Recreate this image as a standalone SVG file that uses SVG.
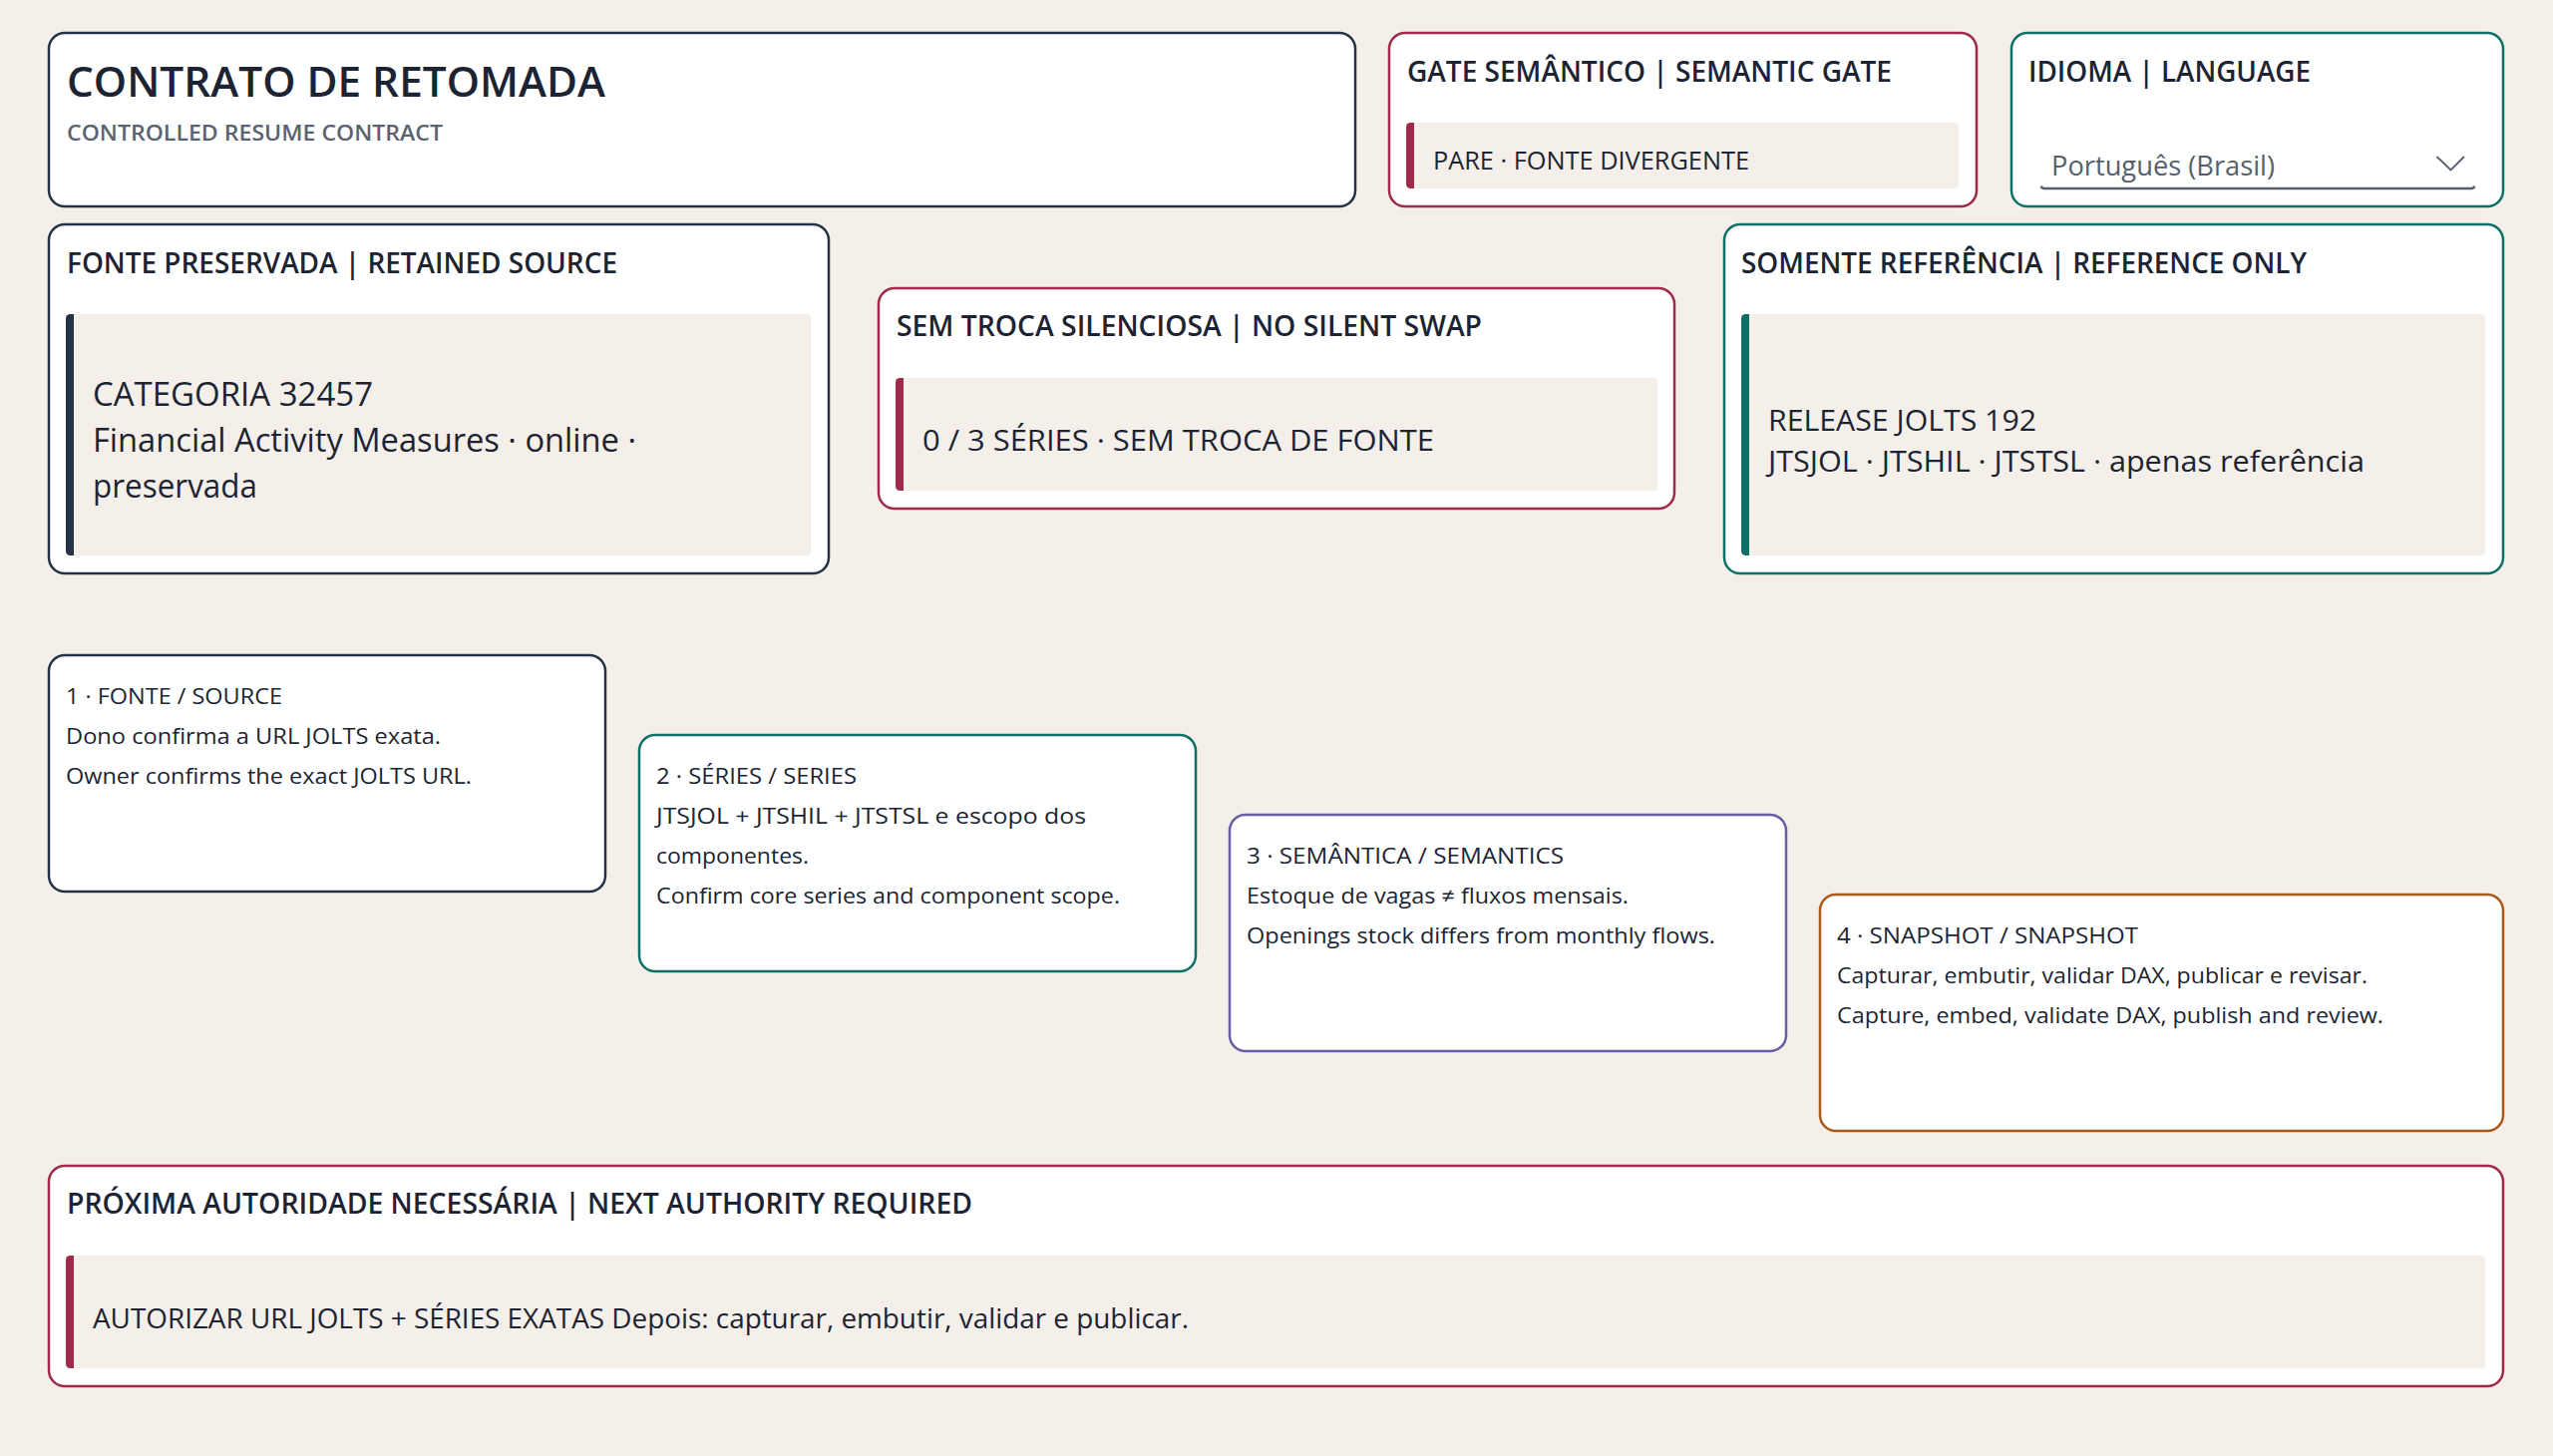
<svg xmlns="http://www.w3.org/2000/svg" width="2560" height="1460" viewBox="0 0 2560 1460">
<defs>
<style>
.bg{fill:#f4efe9}
.card{fill:#ffffff;stroke-width:2.5}
.navy{stroke:#263246}
.crim{stroke:#9e2a4b}
.teal{stroke:#0f6f66}
.purp{stroke:#6b5ca5}
.orng{stroke:#a85a1a}
.panel{fill:#f4efe9}
.barN{fill:#263246}
.barC{fill:#9e2a4b}
.barT{fill:#0f6f66}
text{font-family:"Open Sans","Noto Sans","DejaVu Sans",sans-serif;fill:#1c2433}
.title{font-size:41px;font-weight:600}
.sub{font-size:22px;font-weight:600;fill:#5b6373}
.h{font-size:28px;font-weight:600}
.pv{font-size:26px;font-weight:400}
.big{font-size:32px;font-weight:400}
.mid{font-size:30px;font-weight:400}
.dd{font-size:28px;font-weight:400;fill:#555f6d}
.sh{font-size:22px;font-weight:500}
.sb{font-size:22px;font-weight:400}
.nx{font-size:28px;font-weight:400}
</style>
</defs>
<rect class="bg" x="0" y="0" width="2560" height="1460"/>

<g id="title">
<rect class="card navy" x="49" y="33" width="1310" height="174" rx="16"/>
<text class="title" x="67" y="97" textLength="540" lengthAdjust="spacingAndGlyphs">CONTRATO DE RETOMADA</text>
<text class="sub" x="67" y="141" textLength="377" lengthAdjust="spacingAndGlyphs">CONTROLLED RESUME CONTRACT</text>
</g>

<g id="gate">
<rect class="card crim" x="1393" y="33" width="589" height="174" rx="16"/>
<text class="h" x="1411" y="82" textLength="486" lengthAdjust="spacingAndGlyphs">GATE SEMÂNTICO | SEMANTIC GATE</text>
<rect class="panel" x="1410" y="123" width="554" height="66" rx="4"/>
<path class="barC" d="M1418,123 H1414.5 A4.5 4.5 0 0 0 1410,127.5 V184.5 A4.5 4.5 0 0 0 1414.5,189 H1418 Z"/>
<text class="pv" x="1437" y="170" textLength="317" lengthAdjust="spacingAndGlyphs">PARE · FONTE DIVERGENTE</text>
</g>

<g id="language">
<rect class="card teal" x="2017" y="33" width="493" height="174" rx="16"/>
<text class="h" x="2034" y="82" textLength="283" lengthAdjust="spacingAndGlyphs">IDIOMA | LANGUAGE</text>
<text class="dd" x="2057" y="176" textLength="224" lengthAdjust="spacingAndGlyphs">Português (Brasil)</text>
<path d="M2047,186.5 Q2047,189 2050,189 H2478 Q2481,189 2481,186.5" fill="none" stroke="#555f6d" stroke-width="2.5"/>
<polyline points="2443.5,157 2457.5,170.5 2471,157" fill="none" stroke="#555f6d" stroke-width="1.8"/>
</g>

<g id="retained-source">
<rect class="card navy" x="49" y="225" width="782" height="350" rx="16"/>
<text class="h" x="67" y="274" textLength="552" lengthAdjust="spacingAndGlyphs">FONTE PRESERVADA | RETAINED SOURCE</text>
<rect class="panel" x="66" y="315" width="747" height="242" rx="4"/>
<path class="barN" d="M74,315 H70.5 A4.5 4.5 0 0 0 66,319.5 V552.5 A4.5 4.5 0 0 0 70.5,557 H74 Z"/>
<text class="big" x="93" y="407" textLength="281" lengthAdjust="spacingAndGlyphs">CATEGORIA 32457</text>
<text class="big" x="93" y="453" textLength="545" lengthAdjust="spacingAndGlyphs">Financial Activity Measures · online ·</text>
<text class="big" x="93" y="499" textLength="165" lengthAdjust="spacingAndGlyphs">preservada</text>
</g>

<g id="no-silent-swap">
<rect class="card crim" x="881" y="289" width="798" height="221" rx="16"/>
<text class="h" x="899" y="337" textLength="587" lengthAdjust="spacingAndGlyphs">SEM TROCA SILENCIOSA | NO SILENT SWAP</text>
<rect class="panel" x="898" y="379" width="764" height="113" rx="4"/>
<path class="barC" d="M906,379 H902.5 A4.5 4.5 0 0 0 898,383.5 V487.5 A4.5 4.5 0 0 0 902.5,492 H906 Z"/>
<text class="mid" x="925" y="452" textLength="513" lengthAdjust="spacingAndGlyphs">0 / 3 SÉRIES · SEM TROCA DE FONTE</text>
</g>

<g id="reference-only">
<rect class="card teal" x="1729" y="225" width="781" height="350" rx="16"/>
<text class="h" x="1746" y="274" textLength="567" lengthAdjust="spacingAndGlyphs">SOMENTE REFERÊNCIA | REFERENCE ONLY</text>
<rect class="panel" x="1746" y="315" width="746" height="242" rx="4"/>
<path class="barT" d="M1754,315 H1750.5 A4.5 4.5 0 0 0 1746,319.5 V552.5 A4.5 4.5 0 0 0 1750.5,557 H1754 Z"/>
<text class="mid" x="1773" y="432" textLength="269" lengthAdjust="spacingAndGlyphs">RELEASE JOLTS 192</text>
<text class="mid" x="1773" y="473" textLength="598" lengthAdjust="spacingAndGlyphs">JTSJOL · JTSHIL · JTSTSL · apenas referência</text>
</g>

<g id="step-1">
<rect class="card navy" x="49" y="657" width="558" height="237" rx="16"/>
<text class="sh" x="66" y="706" textLength="217" lengthAdjust="spacingAndGlyphs">1 · FONTE / SOURCE</text>
<text class="sb" x="66" y="746" textLength="376" lengthAdjust="spacingAndGlyphs">Dono confirma a URL JOLTS exata.</text>
<text class="sb" x="66" y="786" textLength="407" lengthAdjust="spacingAndGlyphs">Owner confirms the exact JOLTS URL.</text>
</g>

<g id="step-2">
<rect class="card teal" x="641" y="737" width="558" height="237" rx="16"/>
<text class="sh" x="658" y="786" textLength="201" lengthAdjust="spacingAndGlyphs">2 · SÉRIES / SERIES</text>
<text class="sb" x="658" y="826" textLength="431" lengthAdjust="spacingAndGlyphs">JTSJOL + JTSHIL + JTSTSL e escopo dos</text>
<text class="sb" x="658" y="866" textLength="153" lengthAdjust="spacingAndGlyphs">componentes.</text>
<text class="sb" x="658" y="906" textLength="465" lengthAdjust="spacingAndGlyphs">Confirm core series and component scope.</text>
</g>

<g id="step-3">
<rect class="card purp" x="1233" y="817" width="558" height="237" rx="16"/>
<text class="sh" x="1250" y="866" textLength="318" lengthAdjust="spacingAndGlyphs">3 · SEMÂNTICA / SEMANTICS</text>
<text class="sb" x="1250" y="906" textLength="383" lengthAdjust="spacingAndGlyphs">Estoque de vagas ≠ fluxos mensais.</text>
<text class="sb" x="1250" y="946" textLength="470" lengthAdjust="spacingAndGlyphs">Openings stock differs from monthly flows.</text>
</g>

<g id="step-4">
<rect class="card orng" x="1825" y="897" width="685" height="237" rx="16"/>
<text class="sh" x="1842" y="946" textLength="302" lengthAdjust="spacingAndGlyphs">4 · SNAPSHOT / SNAPSHOT</text>
<text class="sb" x="1842" y="986" textLength="532" lengthAdjust="spacingAndGlyphs">Capturar, embutir, validar DAX, publicar e revisar.</text>
<text class="sb" x="1842" y="1026" textLength="548" lengthAdjust="spacingAndGlyphs">Capture, embed, validate DAX, publish and review.</text>
</g>

<g id="next-authority">
<rect class="card crim" x="49" y="1169" width="2461" height="221" rx="16"/>
<text class="h" x="67" y="1217" textLength="908" lengthAdjust="spacingAndGlyphs">PRÓXIMA AUTORIDADE NECESSÁRIA | NEXT AUTHORITY REQUIRED</text>
<rect class="panel" x="66" y="1259" width="2426" height="113" rx="4"/>
<path class="barC" d="M74,1259 H70.5 A4.5 4.5 0 0 0 66,1263.5 V1367.5 A4.5 4.5 0 0 0 70.5,1372 H74 Z"/>
<text class="nx" x="93" y="1332" textLength="1099" lengthAdjust="spacingAndGlyphs">AUTORIZAR URL JOLTS + SÉRIES EXATAS Depois: capturar, embutir, validar e publicar.</text>
</g>

<g id="connectors"/>
</svg>
